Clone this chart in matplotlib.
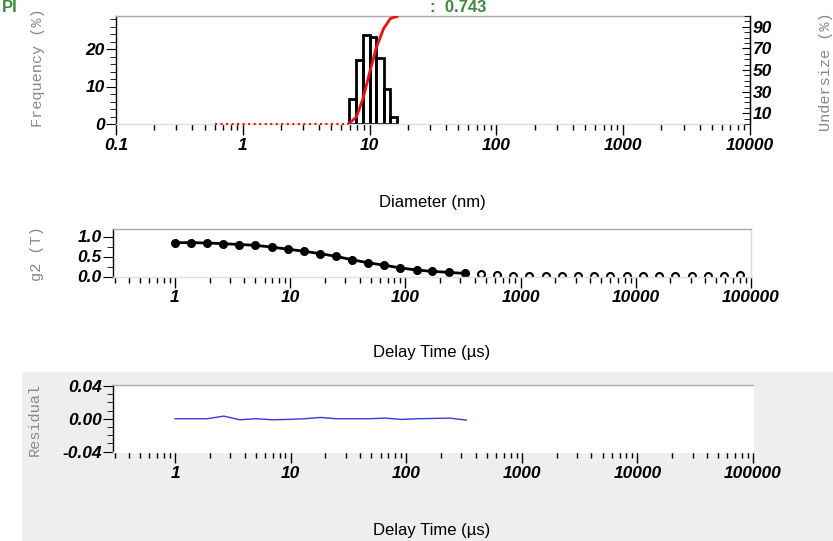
import matplotlib
matplotlib.use("Agg")
import matplotlib.pyplot as plt
import numpy as np
from matplotlib.patches import Rectangle
from matplotlib.ticker import NullFormatter

plt.rcParams['font.family'] = ['Liberation Sans', 'DejaVu Sans']

# size distribution (bin edges in nm, frequency in %)
bin_edges = [6.84, 7.87, 8.89, 10.0, 11.3, 12.9, 14.6, 16.5]
freq = [6.6, 17.2, 23.7, 23.3, 17.6, 9.3, 1.9]
undersize = [0, 6.6, 23.8, 47.5, 70.8, 88.4, 97.7, 99.6]
zero_range = [0.6, 6.84]

# correlation function
tau_fit = [1.0, 1.38, 1.9, 2.63, 3.63, 5.0, 6.9, 9.5, 13.1, 18.1, 25.0, 34.5,
           47.6, 65.7, 90.6, 125, 172, 238, 330]
g2_fit = [0.846, 0.846, 0.838, 0.82, 0.80, 0.78, 0.735, 0.684, 0.632, 0.573,
          0.504, 0.419, 0.342, 0.282, 0.214, 0.162, 0.128, 0.103, 0.077]
tau_tail = [450, 620, 860, 1190, 1650, 2280, 3150, 4360, 6030, 8340, 11500,
            16000, 22100, 30500, 42200, 58400, 80700]
g2_tail = [0.06, 0.04, 0.02, 0.01, 0.01, 0.01, 0.01, 0.015, 0.02, 0.02, 0.01,
           0.01, 0.015, 0.02, 0.02, 0.025, 0.05]
residual = [0.0, 0.0, 0.0, 0.0032, -0.0012, 0.0, -0.0012, -0.0008, 0.0, 0.0016,
            0.0, 0.0, 0.0, 0.0008, -0.0008, 0.0, 0.0004, 0.0008, -0.0016]

W, H = 833, 541
fig = plt.figure(figsize=(W / 100, H / 100), dpi=100)

# grey panel behind the residual plot
fig.patches.append(Rectangle((22 / W, 0), 1, 1 - 371.7 / H, transform=fig.transFigure,
                             facecolor='#eeeeee', edgecolor='none', zorder=-10))


def frac(left, top, right, bottom):
    return [left / W, 1 - bottom / H, (right - left) / W, (bottom - top) / H]


tick_font = dict(fontsize=12.5, fontweight='bold', fontstyle='italic')
label_font = dict(fontsize=11, family='Liberation Mono', color='#888888')
grey_spine = '#aaaaaa'
light_spine = '#dddddd'


def style_spines(ax, right=light_spine, bottom=light_spine):
    ax.spines['left'].set_color('black')
    ax.spines['top'].set_color(grey_spine)
    ax.spines['right'].set_color(right)
    ax.spines['bottom'].set_color(bottom)
    for s in ax.spines.values():
        s.set_linewidth(1)


def log_xaxis(ax, lo, hi, majors, labels):
    ax.set_xscale('log')
    ax.set_xlim(lo, hi)
    ax.set_xticks(majors)
    ax.set_xticklabels(labels, **tick_font)
    minors = [m * 10.0 ** e for e in range(-2, 6) for m in range(2, 10)]
    minors = [v for v in minors if lo <= v <= hi]
    ax.set_xticks(minors, minor=True)
    ax.xaxis.set_minor_formatter(NullFormatter())
    ax.tick_params(axis='x', which='major', direction='out', length=8, width=1, pad=2)
    ax.tick_params(axis='x', which='minor', direction='out', length=4, width=1)


# --- size distribution ---
ax1 = fig.add_axes(frac(116, 16, 750, 124))
style_spines(ax1, right='black')
lefts = bin_edges[:-1]
widths = np.diff(bin_edges)
ax1.bar(lefts, freq, width=widths, align='edge', fill=False, edgecolor='black', linewidth=2)
log_xaxis(ax1, 0.1, 10000, [0.1, 1, 10, 100, 1000, 10000],
          ['0.1', '1', '10', '100', '1000', '10000'])
ax1.set_ylim(0, 28.8)
ax1.set_yticks([0, 10, 20])
ax1.set_yticklabels(['0', '10', '20'], **tick_font)
ax1.set_yticks(np.arange(2, 29, 2), minor=True)
ax1.tick_params(axis='y', which='major', direction='out', length=7, pad=1)
ax1.tick_params(axis='y', which='minor', direction='out', length=4)

ax1r = ax1.twinx()
ax1r.set_ylim(0, 100)
ax1r.plot(bin_edges, undersize, color='#ee1111', linewidth=2, clip_on=True)
ax1r.plot(zero_range, [0, 0], color='#ee1111', linestyle=':', linewidth=1.5, clip_on=False)
ax1r.set_yticks([10, 30, 50, 70, 90])
ax1r.set_yticklabels(['10', '30', '50', '70', '90'], **tick_font)
ax1r.set_yticks([v for v in range(0, 101, 5) if v not in (10, 30, 50, 70, 90)], minor=True)
ax1r.tick_params(axis='y', which='major', direction='in', length=6, pad=2)
ax1r.tick_params(axis='y', which='minor', direction='in', length=4)
for s in ['top', 'left', 'bottom']:
    ax1r.spines[s].set_visible(False)
ax1r.spines['right'].set_color('black')

fig.text(432 / W, 1 - 202 / H, 'Diameter (nm)', ha='center', va='center', fontsize=12)
fig.text(38 / W, 1 - 68 / H, 'Frequency (%)', rotation=90, ha='center', va='center', **label_font)
fig.text(826 / W, 1 - 72 / H, 'Undersize (%)', rotation=90, ha='center', va='center', **label_font)
fig.text(2 / W, 1 - 12 / H, 'PI', color='#3d8b3d', fontsize=12, fontweight='bold', va='baseline')
fig.text(430 / W, 1 - 12 / H, ':  0.743', color='#3d8b3d', fontsize=12, fontweight='bold',
         va='baseline')

# --- correlation function ---
delay_ticks = [1, 10, 100, 1000, 10000, 100000]
delay_labels = ['1', '10', '100', '1000', '10000', '100000']

ax2 = fig.add_axes(frac(113, 229.3, 751, 276.5))
style_spines(ax2)
ax2.plot(tau_fit, g2_fit, color='black', linewidth=2, marker='o', markersize=5.5)
ax2.plot(tau_tail, g2_tail, linestyle='none', marker='o', markersize=5,
         markerfacecolor='white', markeredgecolor='black', markeredgewidth=1.5)
log_xaxis(ax2, 0.29, 1.0e5, delay_ticks, delay_labels)
ax2.set_ylim(0, 1.18)
ax2.set_yticks([0, 0.5, 1.0])
ax2.set_yticklabels(['0.0', '0.5', '1.0'], **tick_font)
ax2.set_yticks([0.25, 0.75], minor=True)
ax2.tick_params(axis='y', which='major', direction='out', length=7, pad=1)
ax2.tick_params(axis='y', which='minor', direction='out', length=4)
fig.text(432 / W, 1 - 353 / H, 'Delay Time (µs)', ha='center', va='center', fontsize=12)
fig.text(37 / W, 1 - 254 / H, 'g2 (T)', rotation=90, ha='center', va='center', **label_font)

# --- residuals ---
ax3 = fig.add_axes(frac(113, 385, 753, 451.7))
style_spines(ax3, right='white', bottom='white')
ax3.set_facecolor('white')
ax3.plot(tau_fit, residual, color='#3a3ad8', linewidth=1)
log_xaxis(ax3, 0.29, 1.0e5, delay_ticks, delay_labels)
ax3.set_ylim(-0.04, 0.041)
ax3.set_yticks([-0.04, 0.0, 0.04])
ax3.set_yticklabels(['-0.04', '0.00', '0.04'], **tick_font)
ax3.set_yticks([-0.03, -0.02, -0.01, 0.01, 0.02, 0.03], minor=True)
ax3.tick_params(axis='y', which='major', direction='out', length=7, pad=1)
ax3.tick_params(axis='y', which='minor', direction='out', length=4)
fig.text(432 / W, 1 - 531 / H, 'Delay Time (µs)', ha='center', va='center', fontsize=12)
fig.text(35 / W, 1 - 419 / H, 'Residual', rotation=90, ha='center', va='center', **label_font)

fig.savefig('out.png', dpi=100)
